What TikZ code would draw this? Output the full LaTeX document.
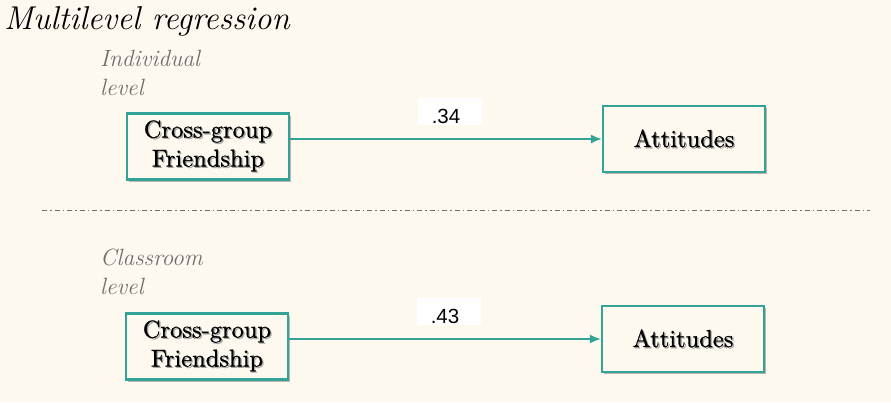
\documentclass[tikz,border=0pt]{standalone}
\usepackage{fontspec}
\newfontfamily\labelfont{Liberation Sans}
\newfontfamily\boxfont{lmroman10-regular.otf}[FakeBold=0.8]
\usetikzlibrary{arrows.meta,shadows}
\definecolor{bg}{HTML}{FEF9EE}
\definecolor{teal1}{HTML}{34A397}
\definecolor{lvlgray}{HTML}{6E6E6E}
\newcommand{\shd}[1]{\makebox[0pt][l]{\hspace{1.3pt}\raisebox{-1.3pt}{\textcolor{black!35}{#1}}}#1}
\tikzset{
  varbox/.style={draw=teal1, line width=2.2pt, fill=bg, minimum width=162pt, minimum height=66pt,
    align=center, font=\boxfont\fontsize{24.5}{29}\selectfont, inner sep=0pt,
    drop shadow={shadow xshift=1.5pt, shadow yshift=-2pt, opacity=0.45, fill=black!60}},
  coef/.style={fill=white, minimum width=64pt, minimum height=27pt, inner sep=0pt},
  coeftext/.style={inner sep=0pt, font=\labelfont\fontsize{20.5}{22}\selectfont},
  lvl/.style={anchor=north west, align=left, text=lvlgray, inner sep=0pt,
    font=\itshape\fontsize{23.5}{29}\selectfont},
  path/.style={draw=teal1, line width=1.8pt, -{Latex[length=11pt,width=9pt]}},
  sep/.style={draw=lvlgray, line width=1pt, dash pattern=on 5pt off 3pt on 1.5pt off 3pt}
}
\begin{document}
\begin{tikzpicture}[x=1pt,y=-1pt]
\useasboundingbox[fill=bg] (0,0) rectangle (891,402);
\node[anchor=base west, inner sep=0pt, font=\itshape\fontsize{33}{38}\selectfont] (title) at (4,29) {Multilevel regression};
\node[lvl] (ind) at (100,50) {Individual\\level};
\node[lvl] (cls) at (100,249) {Classroom\\level};
\node[varbox] (cg1) at (208,146.5) {\shd{Cross-group}\\\shd{Friendship}};
\node[varbox] (at1) at (684,139) {\shd{Attitudes}};
\node[varbox] (cg2) at (207,346.5) {\shd{Cross-group}\\\shd{Friendship}};
\node[varbox] (at2) at (683,339) {\shd{Attitudes}};
\node[coef] (c1) at (450,111.5) {};
\node[coef] (c2) at (449,311) {};
\node[coeftext] (t1) at (446,116.5) {.34};
\node[coeftext] (t2) at (445,316) {.43};
\draw[path] (at1.west -| cg1.east) -- (at1.west);
\draw[path] (at2.west -| cg2.east) -- (at2.west);
\coordinate (s1) at (42,210);
\coordinate (s2) at (870,210);
\draw[sep] (s1) -- (s2);
\end{tikzpicture}
\end{document}
